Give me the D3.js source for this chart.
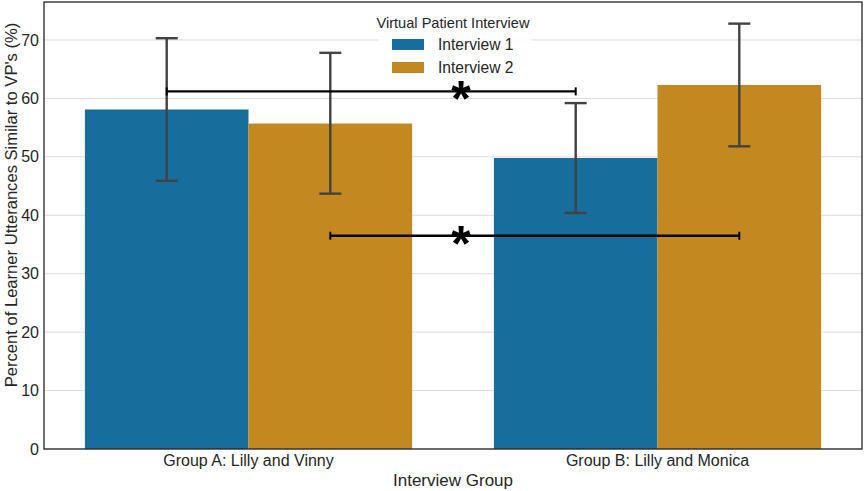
<!DOCTYPE html>
<html>
<head>
<meta charset="utf-8">
<script src="https://cdn.jsdelivr.net/npm/d3@7"></script>
<style>
  body { margin: 0; background: #fff; }
  svg { display: block; font-family: "Liberation Sans", Arial, sans-serif; }
</style>
</head>
<body>
<div id="chart"></div>
<script>
(function(){

    // data
    var groups = ["Group A: Lilly and Vinny", "Group B: Lilly and Monica"];
    var series = ["Interview 1", "Interview 2"];
    var means = [[58.1, 55.7], [49.8, 62.3]];     // [group][series]
    var errLow = [[45.9, 43.7], [40.4, 51.8]];
    var errHigh = [[70.3, 67.8], [59.2, 72.8]];
    var yTicks = [0, 10, 20, 30, 40, 50, 60, 70];
    // significance brackets: [group, series] -> [group, series] at height y
    var sigPairs = [
        { from: [0, 0], to: [1, 0], y: 61.2 },
        { from: [0, 1], to: [1, 1], y: 36.5 }
    ];

    var width = 865, height = 491;
    var left = 44, right = 862, top = 2, bottom = 449;
    var colors = ["#176d9c", "#c38820"];

    var svg = d3.select("#chart")
        .append("svg")
        .attr("width", width)
        .attr("height", height);

    var x = d3.scaleBand().domain(groups).range([left, right]).padding(0);
    var xInner = d3.scaleBand().domain(series)
        .range([x.bandwidth() * 0.1, x.bandwidth() * 0.9]).padding(0);
    var y = d3.scaleLinear().domain([0, 76.5]).range([bottom, top]);

    var barCenter = function(g, s) {
        return x(groups[g]) + xInner(series[s]) + xInner.bandwidth() / 2;
    };

    // grid
    svg.append("g")
        .selectAll("line")
        .data(yTicks)
        .enter()
        .append("line")
        .attr("x1", left).attr("x2", right)
        .attr("y1", function(d) { return y(d); })
        .attr("y2", function(d) { return y(d); })
        .attr("stroke", "#dcdcdc")
        .attr("stroke-width", 1);

    // bars
    var flat = [];
    groups.forEach(function(g, gi) {
        series.forEach(function(s, si) {
            flat.push({ g: gi, s: si, v: means[gi][si], lo: errLow[gi][si], hi: errHigh[gi][si] });
        });
    });

    svg.append("g")
        .selectAll("rect")
        .data(flat)
        .enter()
        .append("rect")
        .attr("x", function(d) { return x(groups[d.g]) + xInner(series[d.s]); })
        .attr("y", function(d) { return y(d.v); })
        .attr("width", xInner.bandwidth())
        .attr("height", function(d) { return y(0) - y(d.v); })
        .attr("fill", function(d) { return colors[d.s]; });

    // error bars
    var eb = svg.append("g")
        .attr("stroke", "#424242")
        .attr("stroke-width", 2.4);
    flat.forEach(function(d) {
        var cx = barCenter(d.g, d.s);
        eb.append("line").attr("x1", cx).attr("x2", cx)
            .attr("y1", y(d.lo)).attr("y2", y(d.hi));
        eb.append("line").attr("x1", cx - 11).attr("x2", cx + 11)
            .attr("y1", y(d.lo)).attr("y2", y(d.lo));
        eb.append("line").attr("x1", cx - 11).attr("x2", cx + 11)
            .attr("y1", y(d.hi)).attr("y2", y(d.hi));
    });

    // significance brackets, star sits just right of the group boundary
    var sig = svg.append("g");
    var starX = x(groups[1]) + 8;
    sigPairs.forEach(function(p) {
        var x1 = barCenter(p.from[0], p.from[1]);
        var x2 = barCenter(p.to[0], p.to[1]);
        var yy = y(p.y);
        sig.append("line").attr("x1", x1).attr("x2", x2)
            .attr("y1", yy).attr("y2", yy)
            .attr("stroke", "#000").attr("stroke-width", 2.4);
        [x1, x2].forEach(function(xe) {
            sig.append("line").attr("x1", xe).attr("x2", xe)
                .attr("y1", yy - 4).attr("y2", yy + 4)
                .attr("stroke", "#000").attr("stroke-width", 2);
        });
        sig.append("text")
            .attr("x", starX)
            .attr("y", yy + 25)
            .attr("text-anchor", "middle")
            .attr("font-size", 50)
            .attr("font-weight", "bold")
            .attr("fill", "#000")
            .text("*");
    });

    // legend
    var lg = svg.append("g");
    lg.append("rect")
        .attr("x", 378).attr("y", 8)
        .attr("width", 154).attr("height", 72)
        .attr("fill", "#fff").attr("fill-opacity", 0.8);
    lg.append("text")
        .attr("x", 453).attr("y", 28)
        .attr("text-anchor", "middle")
        .attr("font-size", 14.6)
        .attr("fill", "#262626")
        .text("Virtual Patient Interview");
    series.forEach(function(s, i) {
        lg.append("rect")
            .attr("x", 392).attr("y", 39 + i * 23)
            .attr("width", 32).attr("height", 11)
            .attr("fill", colors[i]);
        lg.append("text")
            .attr("x", 438).attr("y", 50 + i * 23)
            .attr("font-size", 15.6)
            .attr("fill", "#262626")
            .text(s);
    });

    // frame
    svg.append("rect")
        .attr("x", left).attr("y", top)
        .attr("width", right - left).attr("height", bottom - top)
        .attr("fill", "none")
        .attr("stroke", "#262626")
        .attr("stroke-width", 1.3);

    // axes
    var yAxis = svg.append("g")
        .attr("transform", "translate(" + left + ",0)")
        .call(d3.axisLeft(y).tickValues(yTicks).tickSize(0).tickPadding(5));
    yAxis.select(".domain").remove();
    yAxis.selectAll("text")
        .attr("font-size", 16)
        .attr("font-family", "Liberation Sans, Arial, sans-serif")
        .attr("fill", "#262626");

    var xAxis = svg.append("g")
        .attr("transform", "translate(0," + bottom + ")")
        .call(d3.axisBottom(x).tickSize(0).tickPadding(6));
    xAxis.select(".domain").remove();
    xAxis.selectAll("text")
        .attr("font-size", 16)
        .attr("font-family", "Liberation Sans, Arial, sans-serif")
        .attr("fill", "#262626");

    svg.append("text")
        .attr("x", (left + right) / 2).attr("y", 486)
        .attr("text-anchor", "middle")
        .attr("font-size", 17)
        .attr("fill", "#262626")
        .text("Interview Group");

    svg.append("text")
        .attr("transform", "translate(17,205) rotate(-90)")
        .attr("text-anchor", "middle")
        .attr("font-size", 16.6)
        .attr("fill", "#262626")
        .text("Percent of Learner Utterances Similar to VP's (%)");

})();
</script>
</body>
</html>
